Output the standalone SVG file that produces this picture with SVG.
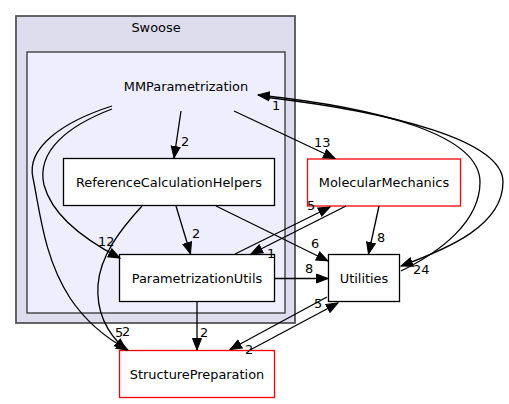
<svg xmlns="http://www.w3.org/2000/svg" width="509" height="404" viewBox="0 0 509 404">
<defs>
<marker id="ah" markerUnits="userSpaceOnUse" markerWidth="13" markerHeight="11" refX="12" refY="5" orient="auto" viewBox="0 0 13 10">
<path d="M0.5,0.5 L12,5 L0.5,9.5 Z" fill="#000" stroke="#000" stroke-width="1"/>
</marker>
<style>
text{font-family:"DejaVu Sans",Verdana,sans-serif;font-size:12.9px;fill:#000}
.c{text-anchor:middle}
.box{fill:#fff;stroke:#000;stroke-width:1.3}
.red{fill:#fff;stroke:#ff0000;stroke-width:1.3}
.e{fill:none;stroke:#000;stroke-width:1.3;marker-end:url(#ah)}
</style>
</defs>
<rect width="509" height="404" fill="#fff"/>
<g id="cluster_Swoose">
<rect x="16" y="16" width="279" height="307" fill="#ddddee" stroke="#555" stroke-width="1.8"/>
<text class="c" x="156" y="32">Swoose</text>
</g>
<g id="cluster_MMParametrization">
<rect x="27" y="52" width="258" height="261" fill="#eeeeff" stroke="#333" stroke-width="1.3"/>
</g>
<g id="node_MMParametrization">
<text class="c" x="186" y="90.5">MMParametrization</text>
</g>
<g id="node_ReferenceCalculationHelpers">
<rect class="box" x="63.5" y="158.5" width="211" height="47"/>
<text class="c" x="169" y="186.5">ReferenceCalculationHelpers</text>
</g>
<g id="node_ParametrizationUtils">
<rect class="box" x="119.5" y="254.5" width="155" height="47"/>
<text class="c" x="197" y="282.5">ParametrizationUtils</text>
</g>
<g id="node_MolecularMechanics">
<rect class="red" x="307.5" y="159" width="153" height="47"/>
<text class="c" x="384" y="187">MolecularMechanics</text>
</g>
<g id="node_Utilities">
<rect class="box" x="328.5" y="254.5" width="71" height="47"/>
<text class="c" x="364" y="282.5">Utilities</text>
</g>
<g id="node_StructurePreparation">
<rect class="red" x="119.5" y="350.5" width="155" height="47"/>
<text class="c" x="197" y="378.5">StructurePreparation</text>
</g>
<g id="connectors">
<path class="e" d="M181,111 L174,158"/>
<text x="181" y="146">2</text>
<path class="e" d="M234,111 L335,158.5"/>
<text x="314" y="147">13</text>
<path class="e" d="M112,109 C70,125 36,150 44,185 C52,215 85,240 120,258"/>
<text x="98" y="246">12</text>
<path class="e" d="M112,106 C62,122 26,148 33,178 C40,212 44,258 70,298 C86,322 106,338 128,350"/>
<text x="115" y="337">5</text>
<path class="e" d="M142,206 C120,230 100,256 98,285 C96,315 110,336 126,350"/>
<text x="122" y="336">2</text>
<path class="e" d="M176,206 L190.5,254"/>
<text x="192" y="238">2</text>
<path class="e" d="M216,206 L328,261"/>
<text x="311" y="248">6</text>
<path class="e" d="M235,254 L330,207"/>
<text x="307" y="210">5</text>
<path class="e" d="M346,206 L251,254"/>
<text x="267" y="258">1</text>
<path class="e" d="M379,206 L368.5,254"/>
<text x="377" y="242">8</text>
<path class="e" d="M275,278.5 L328,278.5"/>
<text x="305" y="273">8</text>
<path class="e" d="M197,302 L197,350"/>
<text x="200" y="337">2</text>
<path class="e" d="M327,297 L230,349.5"/>
<text x="245" y="354">2</text>
<path class="e" d="M250,350 L338,303"/>
<text x="314" y="308">5</text>
<path class="e" d="M268,97.5 C390,112 503,140 503,182 C503,225 450,248 401,266"/>
<text x="413" y="274">24</text>
<path class="e" d="M401,271 C440,252 480,222 480,182 C480,135 380,108 258,95"/>
<text x="272" y="110">1</text>
</g>
</svg>
